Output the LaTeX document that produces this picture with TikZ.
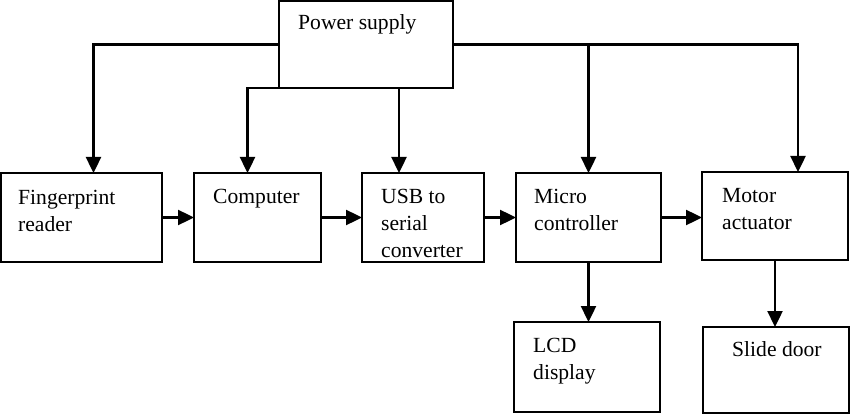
\documentclass[tikz,border=0pt]{standalone}
\usepackage{fontspec}
\setmainfont{Liberation Serif}
\usetikzlibrary{arrows.meta}
\begin{document}
\begin{tikzpicture}[x=1pt,y=-1pt,
  box/.style={draw, line width=2.4pt, rectangle, anchor=north west, inner sep=0pt, outer sep=0pt},
  lbl/.style={anchor=base west, inner sep=0pt, font=\fontsize{21.6}{27}\selectfont},
  arr/.style={line width=2.4pt, -{Triangle[length=16pt,width=15pt]}}]
\useasboundingbox (0,0) rectangle (850,414);
% boxes
\node[box, minimum width=174pt, minimum height=87pt] (ps) at (279,1) {};
\node[box, minimum width=161pt, minimum height=89pt] (fp) at (1,173) {};
\node[box, minimum width=127pt, minimum height=89pt] (comp) at (194,173) {};
\node[box, minimum width=122pt, minimum height=89pt] (usb) at (362,173) {};
\node[box, minimum width=145pt, minimum height=89pt] (mc) at (516,173) {};
\node[box, minimum width=146pt, minimum height=88pt] (mot) at (702,172) {};
\node[box, minimum width=146pt, minimum height=90pt] (lcd) at (514,322) {};
\node[box, minimum width=146pt, minimum height=86pt] (sd) at (703,327) {};
% labels
\node[lbl] (tps) at (298,30) {Power supply};
\node[lbl] (tfp) at (18,204) {\begin{tabular}[t]{@{}l@{}}Fingerprint\\reader\end{tabular}};
\node[lbl] (tcomp) at (213,203) {Computer};
\node[lbl] (tusb) at (381,203) {\begin{tabular}[t]{@{}l@{}}USB to\\serial\\converter\end{tabular}};
\node[lbl] (tmc) at (534,203) {\begin{tabular}[t]{@{}l@{}}Micro\\controller\end{tabular}};
\node[lbl] (tmot) at (722,202) {\begin{tabular}[t]{@{}l@{}}Motor\\actuator\end{tabular}};
\node[lbl] (tlcd) at (533,352) {\begin{tabular}[t]{@{}l@{}}LCD\\display\end{tabular}};
\node[lbl] (tsd) at (732,356) {Slide door};
% power connections
\draw[arr] (ps.west) -| ([xshift=12pt]fp.north);
\draw[arr] (ps.south west) -| ([xshift=-10pt]comp.north);
\draw[arr] ([xshift=-24pt]usb.north |- ps.south) -- ([xshift=-24pt]usb.north);
\draw[arr] (ps.east) -| ([xshift=23pt]mot.north);
\draw[arr] (ps.east -| mc.north) -- (mc.north);
% chain
\draw[arr] (fp.east) -- (comp.west);
\draw[arr] (comp.east) -- (usb.west);
\draw[arr] (usb.east) -- (mc.west);
\draw[arr] (mc.east) -- (mc.east -| mot.west);
\draw[arr] (mc.south) -- (mc.south |- lcd.north);
\draw[arr] (mot.south) -- (mot.south |- sd.north);
\end{tikzpicture}
\end{document}
